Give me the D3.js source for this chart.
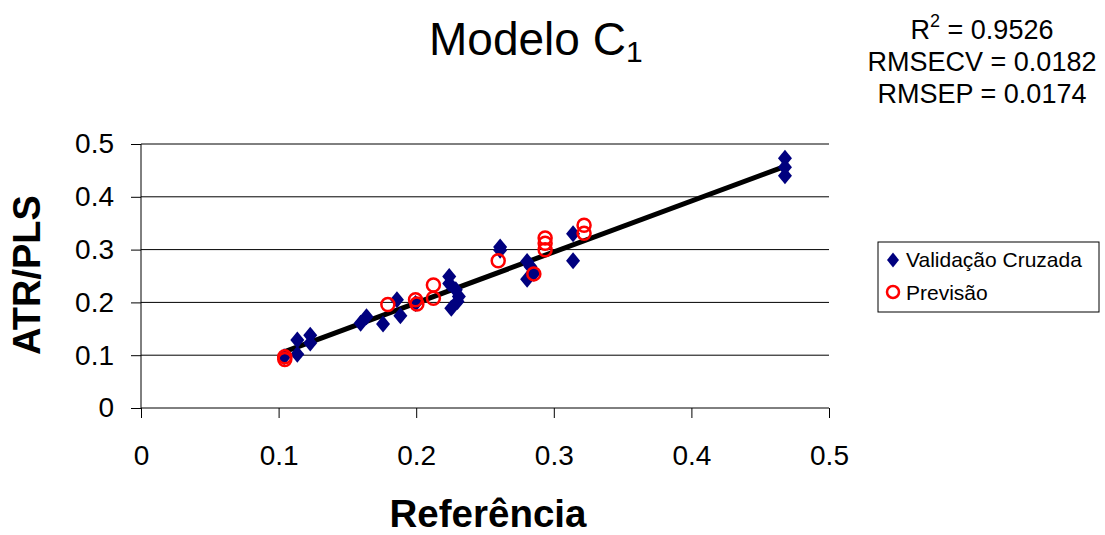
<!DOCTYPE html>
<html><head><meta charset="utf-8">
<script src="https://cdn.jsdelivr.net/npm/d3@7"></script>
<style>body{margin:0;background:#fff}svg{display:block;font-family:"Liberation Sans",Arial,sans-serif}</style>
</head><body><svg id="c" width="1105" height="535"></svg>
<script>
const cvX = [0.104,0.1136,0.1136,0.123,0.123,0.1596,0.1639,0.1759,0.186,0.1885,0.1995,0.224,0.224,0.2288,0.231,0.230,0.2255,0.261,0.261,0.2806,0.2806,0.283,0.2855,0.314,0.314,0.468,0.468,0.468];
const cvY = [0.097,0.129,0.102,0.138,0.123,0.1606,0.173,0.159,0.205,0.1745,0.198,0.249,0.236,0.224,0.211,0.2017,0.189,0.305,0.299,0.2775,0.244,0.268,0.255,0.330,0.279,0.473,0.456,0.440];
const pvX = [0.1045,0.1045,0.1794,0.1995,0.2005,0.2125,0.2125,0.2596,0.2855,0.2937,0.2937,0.2937,0.322,0.322];
const pvY = [0.097,0.092,0.196,0.205,0.197,0.233,0.208,0.279,0.254,0.322,0.312,0.2996,0.346,0.331];
const fitX = [0.1045,0.468];
const fitY = [0.1068,0.4576];
const xTicks = [0,0.1,0.2,0.3,0.4,0.5];
const yTicks = [0,0.1,0.2,0.3,0.4,0.5];
const seriesNames = ["Validação Cruzada","Previsão"];
const statLabels = ["R","RMSECV","RMSEP"];
const statSup = ["2","",""];
const statValues = ["0.9526","0.0182","0.0174"];

const svg = d3.select("#c");
const x = d3.scaleLinear().domain([0,0.5]).range([141,829]);
const y = d3.scaleLinear().domain([0,0.5]).range([408,144]);

// gridlines
svg.append("g").selectAll("line").data(yTicks.filter(d=>d>0)).join("line")
  .attr("x1",x(0)).attr("x2",x(0.5)).attr("y1",d=>y(d)).attr("y2",d=>y(d))
  .attr("stroke","#000").attr("stroke-width",1);

const fmt = d=>d===0?"0":d3.format(".1f")(d);
const xAxis = svg.append("g").attr("transform",`translate(0,${y(0)})`)
  .call(d3.axisBottom(x).tickValues(xTicks).tickFormat(fmt).tickSize(10).tickPadding(27));
const yAxis = svg.append("g").attr("transform",`translate(${x(0)},0)`)
  .call(d3.axisLeft(y).tickValues(yTicks).tickFormat(fmt).tickSize(10).tickPadding(17));
[xAxis,yAxis].forEach(a=>{
  a.select(".domain").attr("stroke","#000").attr("stroke-width",1);
  a.selectAll(".tick line").attr("stroke","#000");
  a.selectAll("text").attr("font-size",28).attr("fill","#000").attr("font-family","Liberation Sans, Arial, sans-serif");
});
xAxis.select(".domain").attr("d",`M${x(0)},0H${x(0.5)}`);
yAxis.select(".domain").attr("d",`M0,${y(0)}V${y(0.5)}`);

// fit line
svg.append("line").attr("x1",x(fitX[0])).attr("y1",y(fitY[0])).attr("x2",x(fitX[1])).attr("y2",y(fitY[1]))
  .attr("stroke","#000").attr("stroke-width",5);

const diamond = "M0,-8.5L7,0L0,8.5L-7,0Z";
svg.append("g").selectAll("path").data(cvX.map((v,i)=>[v,cvY[i]])).join("path")
  .attr("d",diamond).attr("transform",d=>`translate(${x(d[0])},${y(d[1])})`).attr("fill","#00007f");
svg.append("g").selectAll("circle").data(pvX.map((v,i)=>[v,pvY[i]])).join("circle")
  .attr("cx",d=>x(d[0])).attr("cy",d=>y(d[1])).attr("r",6.5).attr("fill","none").attr("stroke","#ff0000").attr("stroke-width",2.5);

// title
const t = svg.append("text").attr("x",429).attr("y",55).attr("font-size",46).attr("fill","#000");
t.append("tspan").text("Modelo C");
t.append("tspan").attr("font-size",30).attr("dy",7).text("1");

// stats
statLabels.forEach((lab,i)=>{
  const s = svg.append("text").attr("x",982).attr("y",39+i*32).attr("text-anchor","middle").attr("font-size",27).attr("fill","#000");
  s.append("tspan").text(lab);
  if(statSup[i]){ s.append("tspan").attr("font-size",18).attr("dy",-12).text(statSup[i]); s.append("tspan").attr("dy",12).text(" = "+statValues[i]); }
  else s.append("tspan").text(" = "+statValues[i]);
});

// axis titles
svg.append("text").attr("x",488).attr("y",527).attr("text-anchor","middle").attr("font-size",38.5).attr("font-weight","bold").text("Referência");
svg.append("text").attr("transform","translate(40,275) rotate(-90)").attr("text-anchor","middle").attr("font-size",38).attr("font-weight","bold").text("ATR/PLS");

// legend
const lg = svg.append("g");
lg.append("rect").attr("x",878).attr("y",242).attr("width",221).attr("height",70).attr("fill","#fff").attr("stroke","#000").attr("stroke-width",1);
lg.append("path").attr("d","M0,-7.5L6,0L0,7.5L-6,0Z").attr("transform","translate(893,260)").attr("fill","#00007f");
lg.append("circle").attr("cx",893).attr("cy",292).attr("r",6).attr("fill","none").attr("stroke","#ff0000").attr("stroke-width",2.5);
lg.selectAll("text.l").data(seriesNames).join("text").attr("class","l").attr("x",906).attr("y",(d,i)=>267+i*33)
  .attr("font-size",21).attr("fill","#000").text(d=>d);
</script></body></html>
